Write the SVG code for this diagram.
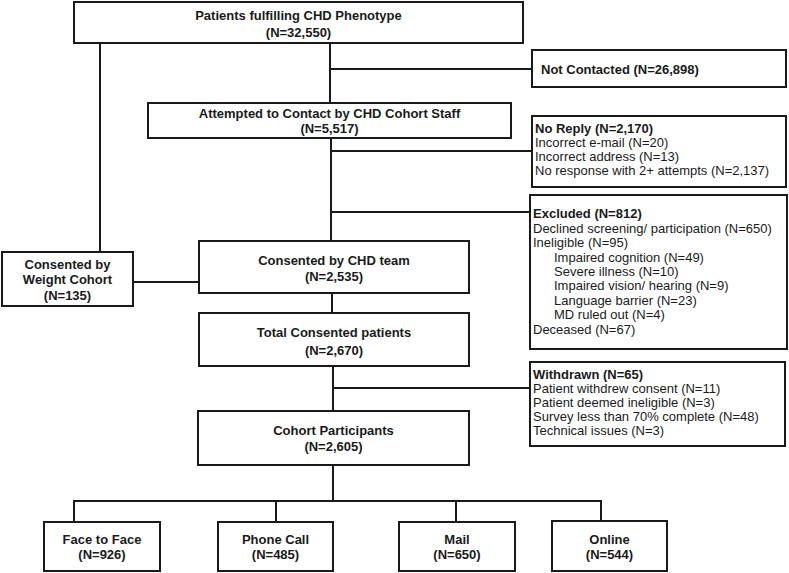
<svg xmlns="http://www.w3.org/2000/svg" width="789" height="573" viewBox="0 0 789 573">
<style>
rect{fill:#fff;stroke:#1a1a1a;stroke-width:2}
.c line{stroke:#1a1a1a;stroke-width:2}
text{font-family:"Liberation Sans",Arial,sans-serif;font-size:13px;fill:#1a1a1a}
.b{font-weight:bold;text-anchor:middle}
.h{font-weight:bold}
</style>
<rect x="0" y="0" width="789" height="573" style="stroke:none"/>
<g class="c" id="connectors">
<line x1="330" y1="43" x2="330" y2="103"/>
<line x1="330" y1="69" x2="532" y2="69"/>
<line x1="100" y1="43" x2="100" y2="252"/>
<line x1="331" y1="138" x2="331" y2="241"/>
<line x1="331" y1="151" x2="532" y2="151"/>
<line x1="331" y1="212" x2="530" y2="212"/>
<line x1="133" y1="282" x2="199" y2="282"/>
<line x1="332" y1="293" x2="332" y2="313"/>
<line x1="333" y1="366" x2="333" y2="411"/>
<line x1="333" y1="388" x2="530" y2="388"/>
<line x1="333" y1="465" x2="333" y2="501"/>
<line x1="73" y1="501" x2="602" y2="501"/>
<line x1="74" y1="501" x2="74" y2="522"/>
<line x1="276" y1="501" x2="276" y2="522"/>
<line x1="456" y1="501" x2="456" y2="522"/>
<line x1="601" y1="501" x2="601" y2="522"/>
</g>
<g id="phenotype"><rect x="74" y="2" width="449" height="41"/><text class="b" x="298.5" y="20">Patients fulfilling  CHD Phenotype</text><text class="b" x="298.5" y="37">(N=32,550)</text></g>
<g id="notcontacted"><rect x="532" y="50" width="254" height="37"/><text class="h" x="541" y="74">Not Contacted (N=26,898)</text></g>
<g id="attempted"><rect x="148" y="103" width="363" height="35"/><text class="b" x="329.5" y="118">Attempted to Contact by CHD Cohort Staff</text><text class="b" x="329.5" y="133">(N=5,517)</text></g>
<g id="noreply"><rect x="532" y="116" width="254" height="71"/><text class="h" x="535" y="133">No Reply (N=2,170)</text><text x="535" y="147">Incorrect e-mail (N=20)</text><text x="535" y="161">Incorrect address (N=13)</text><text x="535" y="175">No response with 2+ attempts (N=2,137)</text></g>
<g id="excluded"><rect x="530" y="195" width="257" height="154"/><text class="h" x="533" y="218">Excluded (N=812)</text><text x="533" y="232.5">Declined screening/ participation (N=650)</text><text x="533" y="247">Ineligible (N=95)</text><text x="554" y="261.5">Impaired cognition (N=49)</text><text x="554" y="276">Severe illness (N=10)</text><text x="554" y="290">Impaired vision/ hearing (N=9)</text><text x="554" y="304.5">Language barrier (N=23)</text><text x="554" y="319">MD ruled out (N=4)</text><text x="533" y="333.5">Deceased (N=67)</text></g>
<g id="weight"><rect x="2" y="252" width="131" height="54"/><text class="b" x="67.5" y="269">Consented by</text><text class="b" x="67.5" y="284">Weight Cohort</text><text class="b" x="67.5" y="300">(N=135)</text></g>
<g id="chdteam"><rect x="199" y="241" width="270" height="52"/><text class="b" x="334" y="265">Consented by CHD team</text><text class="b" x="334" y="281">(N=2,535)</text></g>
<g id="total"><rect x="199" y="313" width="270" height="53"/><text class="b" x="334" y="337">Total Consented patients</text><text class="b" x="334" y="355">(N=2,670)</text></g>
<g id="withdrawn"><rect x="530" y="362" width="255" height="84"/><text class="h" x="533" y="379">Withdrawn (N=65)</text><text x="533" y="393">Patient withdrew consent (N=11)</text><text x="533" y="407">Patient deemed ineligible (N=3)</text><text x="533" y="421">Survey less than 70% complete (N=48)</text><text x="533" y="435">Technical issues (N=3)</text></g>
<g id="cohort"><rect x="198" y="411" width="271" height="54"/><text class="b" x="333.5" y="435">Cohort Participants</text><text class="b" x="333.5" y="451">(N=2,605)</text></g>
<g id="face"><rect x="44" y="522" width="116" height="49"/><text class="b" x="102" y="544">Face to Face</text><text class="b" x="102" y="559">(N=926)</text></g>
<g id="phone"><rect x="218" y="522" width="115" height="49"/><text class="b" x="275.5" y="544">Phone Call</text><text class="b" x="275.5" y="559">(N=485)</text></g>
<g id="mail"><rect x="399" y="522" width="116" height="49"/><text class="b" x="457" y="544">Mail</text><text class="b" x="457" y="559">(N=650)</text></g>
<g id="online"><rect x="552" y="521" width="115" height="50"/><text class="b" x="609.5" y="544">Online</text><text class="b" x="609.5" y="559">(N=544)</text></g>
</svg>
